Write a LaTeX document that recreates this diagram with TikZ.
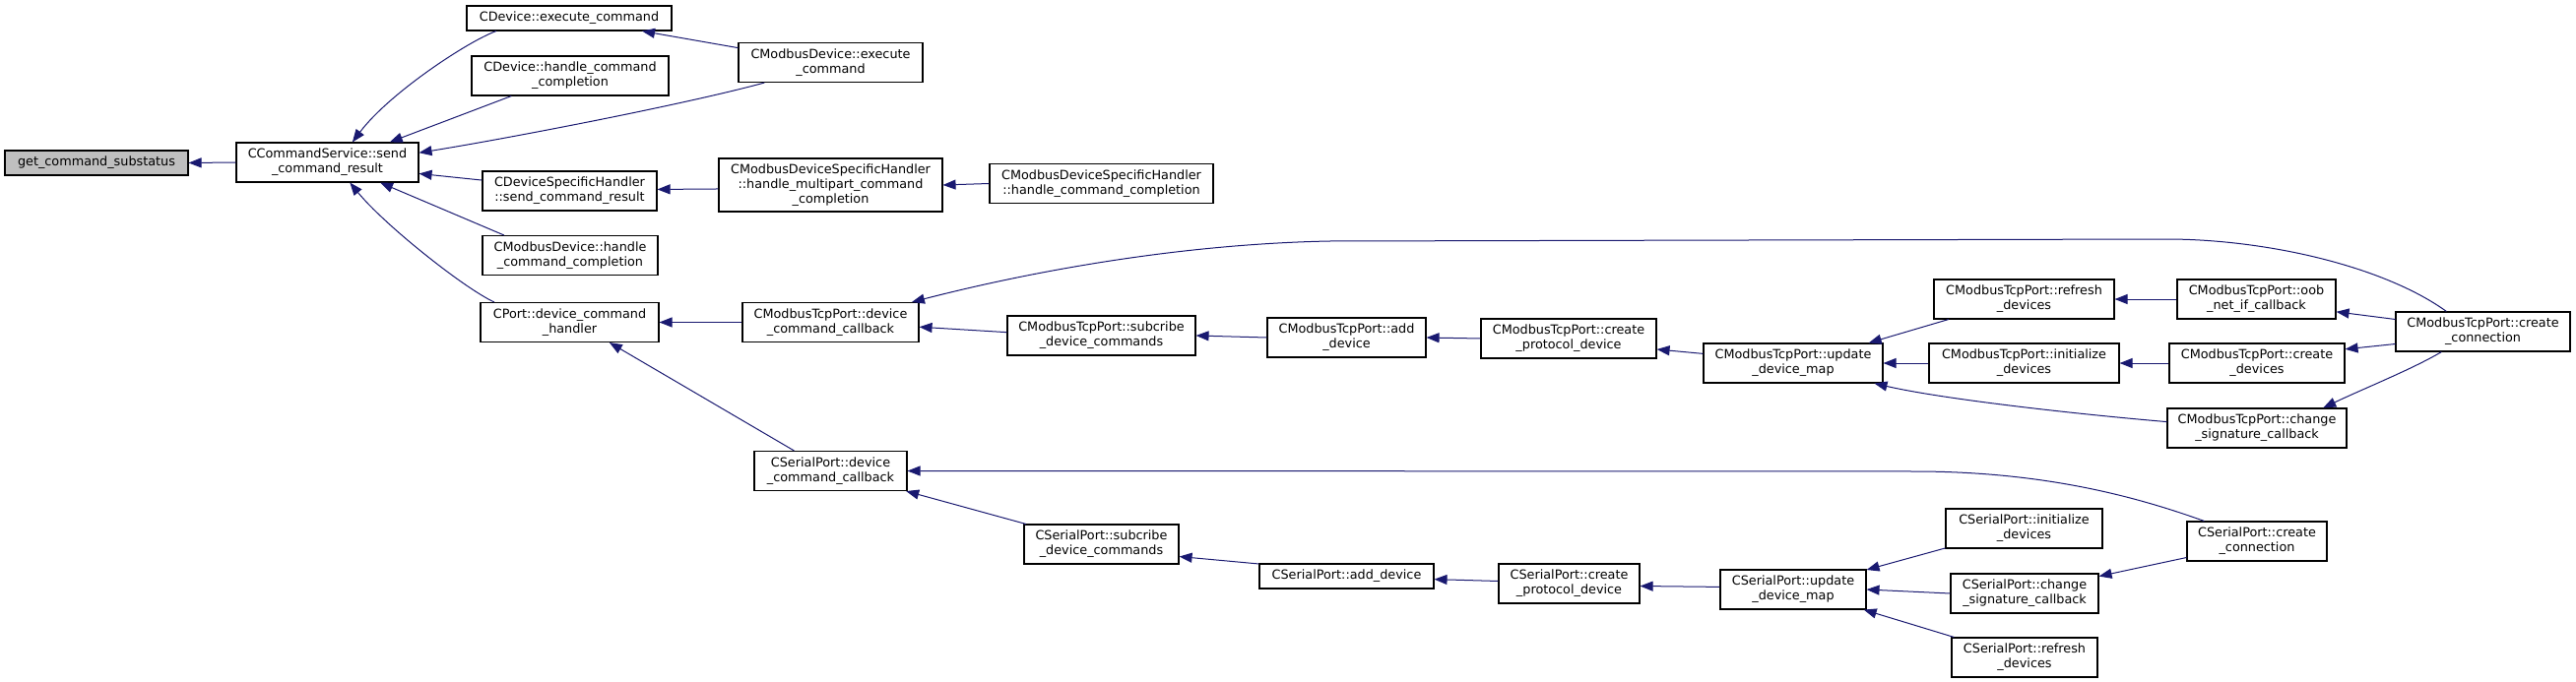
\documentclass[tikz,border=0pt]{standalone}
\usepackage{fontspec}
\setmainfont{DejaVu Sans}
\usetikzlibrary{arrows.meta}
\definecolor{azul}{HTML}{191970}

\begin{document}
\begin{tikzpicture}[
        x=1pt, y=-1pt,
        funcion/.style={draw=black, line width=1.1pt, fill=white, align=center, inner sep=0pt, minimum height=40pt, font=\fontsize{12.8}{15}\selectfont},
        linea/.style={funcion, minimum height=25pt},
        raiz/.style={linea, fill=gray!50},
        flecha/.style={-{Triangle[length=13pt, width=10pt]}, draw=azul, line width=1pt}
    ]
        \useasboundingbox (0,0) rectangle (2616,693);

        \node[raiz, minimum width=186pt] (gss) at (98,165.5) {get\_command\_substatus};
        \node[funcion, minimum width=185pt] (ccs) at (332.5,165) {CCommandService::send\\\_command\_result};

        \node[linea, minimum width=208pt] (cde) at (578,18.5) {CDevice::execute\_command};
        \node[funcion, minimum width=200pt] (cdhcc) at (579,77) {CDevice::handle\_command\\\_completion};
        \node[funcion, minimum width=177pt] (cdsh) at (578.5,194) {CDeviceSpecificHandler\\::send\_command\_result};
        \node[funcion, minimum width=178pt] (cmdhcc) at (579,259.5) {CModbusDevice::handle\\\_command\_completion};
        \node[funcion, minimum width=181pt] (cpdch) at (578.5,327.5) {CPort::device\_command\\\_handler};

        \node[funcion, minimum width=187pt] (cmde) at (843.5,63.5) {CModbusDevice::execute\\\_command};
        \node[funcion, minimum width=227pt, minimum height=54pt] (cmdshmp) at (843.5,188) {CModbusDeviceSpecificHandler\\::handle\_multipart\_command\\\_completion};
        \node[funcion, minimum width=179pt] (mtpdcc) at (843.5,327.5) {CModbusTcpPort::device\\\_command\_callback};
        \node[funcion, minimum width=155pt] (cspdcc) at (843.5,478.5) {CSerialPort::device\\\_command\_callback};

        \node[funcion, minimum width=227pt] (cmdshcc) at (1118.5,186.5) {CModbusDeviceSpecificHandler\\::handle\_command\_completion};
        \node[funcion, minimum width=191pt] (mtpsdc) at (1118.5,341) {CModbusTcpPort::subcribe\\\_device\_commands};
        \node[funcion, minimum width=157pt] (cspsdc) at (1118.5,553) {CSerialPort::subcribe\\\_device\_commands};

        \node[funcion, minimum width=161pt] (mtpad) at (1367.5,343) {CModbusTcpPort::add\\\_device};
        \node[linea, minimum width=177pt] (cspad) at (1367.5,585.5) {CSerialPort::add\_device};
        \node[funcion, minimum width=178pt] (mtpcpd) at (1593,344) {CModbusTcpPort::create\\\_protocol\_device};
        \node[funcion, minimum width=143pt] (cspcpd) at (1593.5,593) {CSerialPort::create\\\_protocol\_device};
        \node[funcion, minimum width=182pt] (mtpudm) at (1821,369) {CModbusTcpPort::update\\\_device\_map};
        \node[funcion, minimum width=148pt] (cspudm) at (1821,599) {CSerialPort::update\\\_device\_map};

        \node[funcion, minimum width=183pt] (mtprd) at (2055.5,304) {CModbusTcpPort::refresh\\\_devices};
        \node[funcion, minimum width=193pt] (mtpid) at (2055.5,369) {CModbusTcpPort::initialize\\\_devices};
        \node[funcion, minimum width=159pt] (cspid) at (2055.5,537) {CSerialPort::initialize\\\_devices};
        \node[funcion, minimum width=150pt] (cspcsc) at (2056,603) {CSerialPort::change\\\_signature\_callback};
        \node[funcion, minimum width=148pt] (csprd) at (2056,668) {CSerialPort::refresh\\\_devices};

        \node[funcion, minimum width=161pt] (mtpoob) at (2291.5,304) {CModbusTcpPort::oob\\\_net\_if\_callback};
        \node[funcion, minimum width=178pt] (mtpcd) at (2292,369) {CModbusTcpPort::create\\\_devices};
        \node[funcion, minimum width=182pt] (mtpcsc) at (2292,435) {CModbusTcpPort::change\\\_signature\_callback};
        \node[funcion, minimum width=142pt] (cspcc) at (2292,550) {CSerialPort::create\\\_connection};
        \node[funcion, minimum width=177pt] (mtpcc) at (2521.5,337) {CModbusTcpPort::create\\\_connection};

        \draw[flecha] (ccs.west) -- (gss.east);
        \draw[flecha] (cde.190) .. controls (475,42) and (395,95) .. (ccs.39);
        \draw[flecha] (cdhcc.199) -- (ccs.18);
        \draw[flecha] (cmde.197) .. controls (700,105) and (520,140) .. (ccs.6);
        \draw[flecha] (cdsh.173) -- (ccs.-7);
        \draw[flecha] (cmdhcc.163) -- (ccs.-21);
        \draw[flecha] (cpdch.165) .. controls (470,292) and (390,228) .. (ccs.-42);

        \draw[flecha] (cmde.171) -- (cde.-10);
        \draw[flecha] (cmdshmp.182) -- (cdsh.1);
        \draw[flecha] (cmdshcc.west) -- (cmdshmp.east);
        \draw[flecha] (mtpdcc.west) -- (cpdch.east);
        \draw[flecha] (cspdcc.151) -- (cpdch.-27);

        \draw[flecha] (mtpsdc.178) -- (mtpdcc.-3);
        \draw[flecha] (mtpcc.151) .. controls (2420,270) and (2300,243) .. (2200,243) -- (1350,245) .. controls (1200,248) and (1050,275) .. (mtpdcc.14);
        \draw[flecha] (mtpad.west) -- (mtpsdc.east);
        \draw[flecha] (mtpcpd.west) -- (mtpad.east);
        \draw[flecha] (mtpudm.174) -- (mtpcpd.-7);
        \draw[flecha] (mtprd.195) -- (mtpudm.15);
        \draw[flecha] (mtpid.west) -- (mtpudm.east);
        \draw[flecha] (mtpcsc.176) .. controls (2100,420) and (1970,405) .. (mtpudm.-14);
        \draw[flecha] (mtpoob.west) -- (mtprd.east);
        \draw[flecha] (mtpcd.west) -- (mtpid.east);
        \draw[flecha] (mtpcc.172) -- (mtpoob.-9);
        \draw[flecha] (mtpcc.188) -- (mtpcd.9);
        \draw[flecha] (mtpcc.206) .. controls (2450,375) and (2400,395) .. (mtpcsc.17);

        \draw[flecha] (cspcc.159) .. controls (2170,505) and (2080,480) .. (1950,479) -- (cspdcc.east);
        \draw[flecha] (cspsdc.165) -- (cspdcc.-15);
        \draw[flecha] (cspad.172) -- (cspsdc.-9);
        \draw[flecha] (cspcpd.178) -- (cspad.-2);
        \draw[flecha] (cspudm.178) -- (cspcpd.-2);
        \draw[flecha] (cspid.194) -- (cspudm.15);
        \draw[flecha] (cspcsc.west) -- (cspudm.east);
        \draw[flecha] (csprd.164) -- (cspudm.-16);
        \draw[flecha] (cspcc.193) -- (cspcsc.13);
    \end{tikzpicture}
\end{document}
